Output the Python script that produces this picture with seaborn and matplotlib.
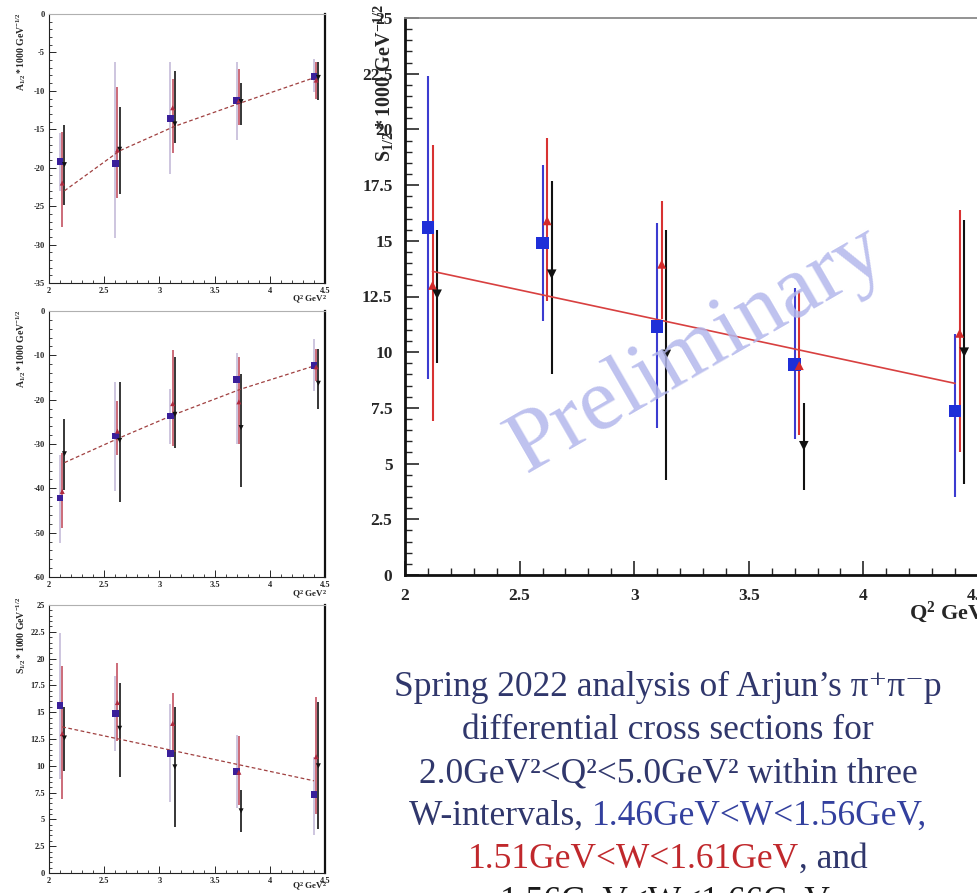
import matplotlib
matplotlib.use("Agg")
import matplotlib.pyplot as plt
from matplotlib.ticker import MultipleLocator, FuncFormatter
import numpy as np
import pandas as pd
import seaborn as sns

# ---------------- data ----------------
q2_blue = [2.10, 2.60, 3.10, 3.70, 4.40]
q2_red = [2.12, 2.62, 3.12, 3.72, 4.42]
q2_black = [2.14, 2.64, 3.14, 3.74, 4.44]

# A1/2, upper panel
a1_blue = [-19.15, -19.5, -13.6, -11.3, -8.1]
a1_blue_hi = [-15.5, -6.3, -6.3, -6.3, -5.8]
a1_blue_lo = [-23.0, -29.2, -20.8, -16.4, -10.1]
a1_red = [-22.0, -17.7, -12.2, -11.3, -8.6]
a1_red_hi = [-15.3, -9.5, -8.5, -7.1, -6.2]
a1_red_lo = [-27.7, -24.0, -18.1, -14.5, -11.0]
a1_black = [-19.6, -17.6, -14.3, -11.4, -8.25]
a1_black_hi = [-14.5, -12.1, -7.4, -9.0, -6.3]
a1_black_lo = [-24.9, -23.4, -16.8, -14.5, -11.2]
a1_fit_q2 = [2.14, 2.64, 3.14, 3.74, 4.40]
a1_fit = [-23.0, -17.8, -14.6, -11.55, -8.3]

# A1/2, middle panel
a2_blue = [-42.2, -28.2, -23.7, -15.5, -12.3]
a2_blue_hi = [-32.4, -16.1, -17.6, -9.5, -6.3]
a2_blue_lo = [-52.4, -40.5, -30.1, -30.0, -18.0]
a2_red = [-40.7, -27.1, -20.9, -20.5, -12.6]
a2_red_hi = [-32.0, -20.3, -8.9, -10.4, -8.5]
a2_red_lo = [-48.9, -32.4, -30.5, -30.1, -15.7]
a2_black = [-32.2, -29.2, -23.3, -26.3, -16.3]
a2_black_hi = [-24.4, -16.1, -10.3, -14.2, -8.5]
a2_black_lo = [-40.3, -43.0, -31.0, -39.6, -22.2]
a2_fit_q2 = [2.14, 2.64, 3.14, 3.74, 4.40]
a2_fit = [-34.2, -28.6, -23.3, -17.6, -12.4]

# S1/2
s_blue = [15.6, 14.9, 11.15, 9.45, 7.35]
s_blue_hi = [22.4, 18.4, 15.8, 12.9, 10.8]
s_blue_lo = [8.8, 11.4, 6.6, 6.1, 3.5]
s_red = [13.0, 15.9, 13.95, 9.4, 10.85]
s_red_hi = [19.3, 19.6, 16.8, 12.75, 16.4]
s_red_lo = [6.9, 12.3, 11.5, 6.3, 5.5]
s_black = [12.6, 13.5, 9.9, 5.8, 10.0]
s_black_hi = [15.5, 17.7, 15.5, 7.7, 15.95]
s_black_lo = [9.5, 9.0, 4.26, 3.8, 4.1]
s_fit_q2 = [2.12, 4.40]
s_fit = [13.63, 8.6]

x_ticks = [2, 2.5, 3, 3.5, 4, 4.5]

# ---------------- style ----------------
sns.set_style("ticks")
plt.rcParams.update({
    "font.family": ["Liberation Serif", "DejaVu Serif"],
    "axes.unicode_minus": False,
    "mathtext.fontset": "custom",
    "mathtext.rm": "Liberation Serif",
    "mathtext.bf": "Liberation Serif:bold",
    "mathtext.it": "Liberation Serif:italic",
})

W, H = 978, 893
fig = plt.figure(figsize=(W / 100, H / 100), dpi=100)
fig.patch.set_facecolor("white")


def px_axes(left, top, right, bottom):
    return fig.add_axes([left / W, 1 - bottom / H, (right - left) / W, (bottom - top) / H])


def fmt(v, _pos):
    return f"{v:g}"


def build_frame(vals):
    rows = []
    for name, q, y in vals:
        for qi, yi in zip(q, y):
            rows.append({"Q2": qi, "val": yi, "series": name})
    return pd.DataFrame(rows)


def draw_panel(ax, series, fit_q, fit_y, small, err_colors, mk_colors, sizes, fit_style):
    for (name, q, y, hi, lo) in series:
        ax.vlines(q, lo, hi, colors=err_colors[name], lw=1.3 if small else 1.5, zorder=2)
    df = build_frame([(n, q, y) for (n, q, y, hi, lo) in series])
    sns.scatterplot(data=df, x="Q2", y="val", hue="series", style="series",
                    markers={"blue": "s", "red": "^", "black": "v"},
                    palette=mk_colors, size="series", sizes=sizes,
                    linewidth=0, legend=False, ax=ax, zorder=4)
    fit_df = pd.DataFrame({"Q2": fit_q, "val": fit_y})
    sns.lineplot(data=fit_df, x="Q2", y="val", sort=False, estimator=None,
                 ax=ax, zorder=3, **fit_style)
    ax.set_xlabel("")
    ax.set_ylabel("")


# ---------------- small panels ----------------
small_err = {"blue": "#c9c0dc", "red": "#c8606e", "black": "#262626"}
small_mk = {"blue": "#3a1f9a", "red": "#b02a3e", "black": "#111111"}
small_sizes = {"blue": 24, "red": 13, "black": 13}
small_fit = dict(color="#a04040", lw=0.9, linestyle=(0, (3, 2)))

panels = [
    ((49, 14, 325, 283), (-35, 0), 5, 1,
     [("blue", q2_blue, a1_blue, a1_blue_hi, a1_blue_lo),
      ("red", q2_red, a1_red, a1_red_hi, a1_red_lo),
      ("black", q2_black, a1_black, a1_black_hi, a1_black_lo)],
     a1_fit_q2, a1_fit, r"$\mathbf{A_{1/2}*1000\ GeV^{-1/2}}$", 12, 300),
    ((49, 311, 325, 577), (-60, 0), 10, 2,
     [("blue", q2_blue, a2_blue, a2_blue_hi, a2_blue_lo),
      ("red", q2_red, a2_red, a2_red_hi, a2_red_lo),
      ("black", q2_black, a2_black, a2_black_hi, a2_black_lo)],
     a2_fit_q2, a2_fit, r"$\mathbf{A_{1/2}*1000\ GeV^{-1/2}}$", 309, 595),
    ((49, 605, 325, 873), (0, 25), 2.5, 0.5,
     [("blue", q2_blue, s_blue, s_blue_hi, s_blue_lo),
      ("red", q2_red, s_red, s_red_hi, s_red_lo),
      ("black", q2_black, s_black, s_black_hi, s_black_lo)],
     s_fit_q2, s_fit, r"$\mathbf{S_{1/2}*1000\ GeV^{-1/2}}$", 597, 887),
]

for (box, ylim, major, minor, series, fq, fy, ylab, ylab_top, xlab_y) in panels:
    ax = px_axes(*box)
    draw_panel(ax, series, fq, fy, True, small_err, small_mk, small_sizes, small_fit)
    ax.set_xlim(2, 4.5)
    ax.set_ylim(*ylim)
    ax.set_xticks(x_ticks)
    ax.xaxis.set_minor_locator(MultipleLocator(0.1))
    ax.yaxis.set_major_locator(MultipleLocator(major))
    ax.yaxis.set_minor_locator(MultipleLocator(minor))
    ax.xaxis.set_major_formatter(FuncFormatter(fmt))
    ax.yaxis.set_major_formatter(FuncFormatter(fmt))
    ax.tick_params(which="major", direction="in", length=5, width=0.7, labelsize=6, pad=3,
                   top=False, right=False)
    ax.tick_params(which="minor", direction="in", length=2.5, width=0.6, top=False, right=False)
    for lab in ax.get_xticklabels() + ax.get_yticklabels():
        lab.set_fontweight("bold")
    for side in ("left", "bottom"):
        ax.spines[side].set_linewidth(0.8)
        ax.spines[side].set_color("#222222")
    ax.spines["top"].set_linewidth(0.8)
    ax.spines["top"].set_color("#b0b0b0")
    ax.spines["right"].set_linewidth(1.6)
    ax.spines["right"].set_color("#111111")
    fig.text(21 / W, 1 - ylab_top / H, ylab, rotation=90, ha="center", va="top", fontsize=7)
    fig.text(327 / W, 1 - xlab_y / H, r"$\mathbf{Q^{2}\ GeV^{2}}$", ha="right", va="center",
             fontsize=6.5)

# ---------------- large S1/2 panel ----------------
big = px_axes(405, 18, 978, 575)
big_err = {"blue": "#3b3bd0", "red": "#d83232", "black": "#111111"}
big_mk = {"blue": "#1f2fd8", "red": "#d42a2a", "black": "#111111"}
big_sizes = {"blue": 80, "red": 42, "black": 48}
big_fit = dict(color="#d84040", lw=1.2)
draw_panel(big,
           [("blue", q2_blue, s_blue, s_blue_hi, s_blue_lo),
            ("red", q2_red, s_red, s_red_hi, s_red_lo),
            ("black", q2_black, s_black, s_black_hi, s_black_lo)],
           s_fit_q2, s_fit, False, big_err, big_mk, big_sizes, big_fit)
big.set_xlim(2, 4.5)
big.set_ylim(0, 25)
big.set_xticks(x_ticks)
big.xaxis.set_minor_locator(MultipleLocator(0.1))
big.yaxis.set_major_locator(MultipleLocator(2.5))
big.yaxis.set_minor_locator(MultipleLocator(0.5))
big.xaxis.set_major_formatter(FuncFormatter(fmt))
big.yaxis.set_major_formatter(FuncFormatter(fmt))
big.tick_params(which="major", direction="in", length=10, width=1.2, labelsize=12.5, pad=9,
                top=False, right=False)
big.tick_params(which="minor", direction="in", length=5, width=1.0, top=False, right=False)
for lab in big.get_xticklabels() + big.get_yticklabels():
    lab.set_fontweight("bold")
for side in ("left", "bottom"):
    big.spines[side].set_linewidth(2.0)
    big.spines[side].set_color("#111111")
big.spines["top"].set_linewidth(1.3)
big.spines["top"].set_color("#8a8a8a")
big.spines["right"].set_visible(False)

fig.text(384 / W, 1 - 4 / H, r"$\mathbf{S_{1/2}*1000\ GeV^{-1/2}}$", rotation=90,
         ha="center", va="top", fontsize=14.5)
fig.text(993 / W, 1 - 612 / H, r"$\mathbf{Q^{2}\ GeV^{2}}$", ha="right", va="center",
         fontsize=16)

fig.text(697 / W, 1 - 350 / H, "Preliminary", rotation=30, rotation_mode="anchor",
         ha="center", va="center", fontsize=64, family="Liberation Serif",
         color="#b3b7ec", alpha=0.85, zorder=10)

# ---------------- caption ----------------
navy = "#30376c"
blue_txt = "#33409e"
red_txt = "#c0282c"
black_txt = "#1a1a1a"
caption = [
    [("Spring 2022 analysis of Arjun\u2019s \u03c0\u207a\u03c0\u207bp", navy)],
    [("differential cross sections for", navy)],
    [("2.0GeV\u00b2<Q\u00b2<5.0GeV\u00b2 within three", navy)],
    [("W-intervals, ", navy), ("1.46GeV<W<1.56GeV,", blue_txt)],
    [("1.51GeV<W<1.61GeV", red_txt), (", and", navy)],
    [("1.56GeV<W<1.66GeV.", black_txt)],
]
baselines = [696, 739, 782, 825, 868, 911]
center_x = 668

renderer = fig.canvas.get_renderer()
for parts, base in zip(caption, baselines):
    texts = [fig.text(0, 1 - base / H, s, color=c, fontsize=25.5, va="baseline", ha="left",
                      family=["Liberation Serif", "DejaVu Serif"]) for s, c in parts]
    widths = [t.get_window_extent(renderer).width for t in texts]
    x0 = center_x - sum(widths) / 2
    for t, w in zip(texts, widths):
        t.set_x(x0 / W)
        x0 += w

fig.savefig("out.png", dpi=100, facecolor="white")
